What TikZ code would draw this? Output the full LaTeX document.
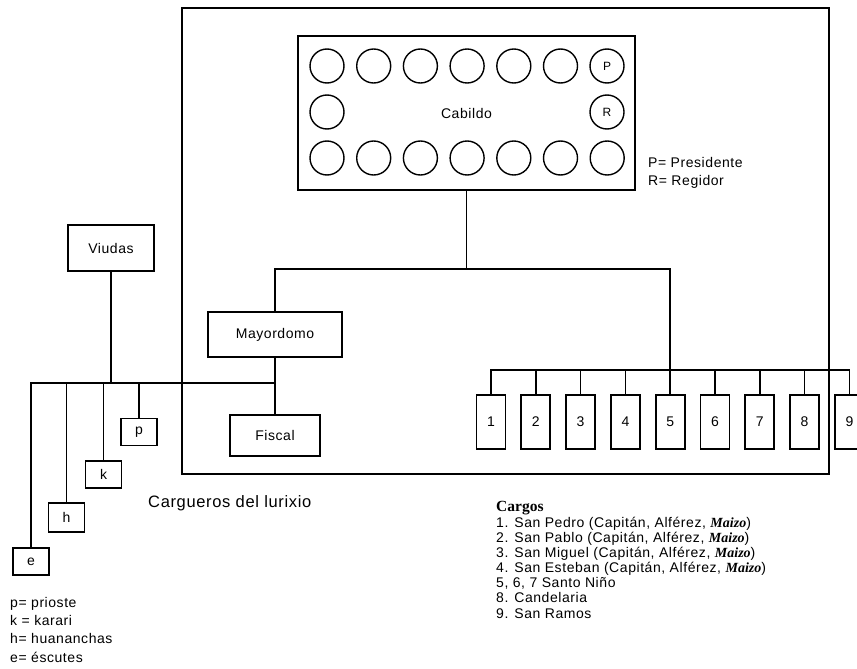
\documentclass[tikz,border=0pt]{standalone}
\usepackage{fontspec}
\setmainfont{Liberation Sans}[LetterSpace=4]
\newfontfamily\headfont{Liberation Serif}
\tikzset{
  box/.style={draw=black, line width=1.7pt, inner sep=0pt, font=\fontsize{14}{16}\selectfont},
  seat/.style={circle, draw=black, line width=1.4pt, minimum size=34pt, inner sep=0pt, font=\fontsize{12}{14}\selectfont},
  cargo/.style={box, minimum width=29pt, minimum height=54pt},
  tag/.style={box, minimum width=36pt, minimum height=27pt},
  note/.style={anchor=base west, inner sep=0pt, font=\fontsize{14}{16}\selectfont},
  link/.style={line width=1.7pt, draw=black}
}

\begin{document}
\begin{tikzpicture}[x=1pt, y=-1pt]
  \useasboundingbox (0,0) rectangle (857,669);
  \node[draw=black, line width=1.7pt, minimum width=647pt, minimum height=466pt] (frame) at (505.5,241) {};
  % cabildo with its seats
  \node[box, minimum width=337pt, minimum height=154pt] (cabildo) at (466.5,113) {Cabildo};
  \foreach \i in {0,...,5}
    \node[seat] (t\i) at ({327+46.7*\i},66) {};
  \node[seat] (pres) at (607,66) {P};
  \node[seat] (m0) at (327,112) {};
  \node[seat] (reg) at (607,112) {R};
  \foreach \i in {0,...,6}
    \node[seat] (b\i) at ({327+46.7*\i},158) {};
  \node[note] (pleg) at (648,167) {P= Presidente};
  \node[note] (rleg) at (648,185) {R= Regidor};

  \node[box, minimum width=134pt, minimum height=45pt] (mayor) at (275,334.5) {Mayordomo};
  \node[box, minimum width=90pt, minimum height=41pt] (fiscal) at (275,435.5) {Fiscal};
  \node[box, minimum width=86pt, minimum height=46pt] (viudas) at (111,248) {Viudas};
  \node[tag] (pr) at (139,432) {p};
  \node[tag] (ka) at (103.5,474.5) {k};
  \node[tag, minimum height=29pt] (hu) at (66.5,517.5) {h};
  \node[tag] (es) at (31,561.5) {e};
  \foreach \n in {1,...,9}
    \node[cargo] (c\n) at ({491+44.8*(\n-1)},422) {\n};

  \coordinate (jc) at (466.5,269);
  \coordinate (bus) at (0,370);
  \coordinate (lbus) at (0,383);
  \draw[link] (cabildo.south) -- (jc);
  \draw[link] (mayor.north) |- (jc) -| (c5.north);
  \draw[link] (c1.north) |- (c9.north |- bus) -- (c9.north);
  \foreach \n in {2,...,8}
    \draw[link] (c\n.north) -- (c\n.north |- bus);
  \draw[link] (mayor.south) -- (fiscal.north);
  \draw[link] (es.north) |- (mayor.south |- lbus);
  \draw[link] (viudas.south) -- (viudas.south |- lbus);
  \foreach \t in {hu,ka,pr}
    \draw[link] (\t.north) -- (\t.north |- lbus);

  \node[note, font=\fontsize{16.5}{18}\selectfont] (carg) at (148,507) {Cargueros del lurixio};
  \node[note] (lp) at (10,607) {p= prioste};
  \node[note] (lk) at (10,625) {k = karari};
  \node[note] (lh) at (10,643) {h= huananchas};
  \node[note] (le) at (10,662) {e= éscutes};

  \node[note, font=\fontsize{15.5}{17}\selectfont\headfont\bfseries] (cargos) at (496,511) {Cargos};
  \node[note] (g1) at (496,527) {1. San Pedro (Capitán, Alférez, {\headfont\bfseries\itshape Maizo})};
  \node[note] (g2) at (496,542) {2. San Pablo (Capitán, Alférez, {\headfont\bfseries\itshape Maizo})};
  \node[note] (g3) at (496,557) {3. San Miguel (Capitán, Alférez, {\headfont\bfseries\itshape Maizo})};
  \node[note] (g4) at (496,572.5) {4. San Esteban (Capitán, Alférez, {\headfont\bfseries\itshape Maizo})};
  \node[note] (g5) at (496,587.5) {5, 6, 7 Santo Niño};
  \node[note] (g6) at (496,602.5) {8. Candelaria};
  \node[note] (g7) at (496,618) {9. San Ramos};
\end{tikzpicture}
\end{document}
